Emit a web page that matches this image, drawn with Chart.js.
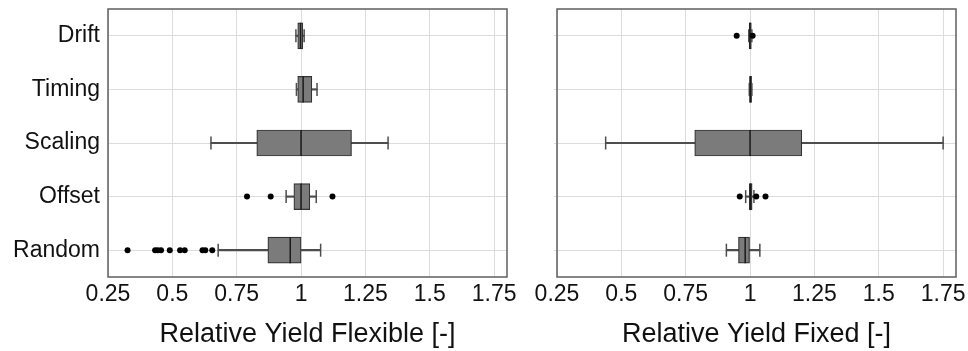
<!DOCTYPE html>
<html>
<head>
<meta charset="utf-8">
<script src="https://cdn.jsdelivr.net/npm/chart.js@4/dist/chart.umd.min.js"></script>
<style>
  html, body { margin: 0; padding: 0; background: #ffffff; }
  #wrap { position: relative; width: 968px; height: 351px; }
  #c1 { position: absolute; left: 0; top: 0; }
  #c2 { position: absolute; left: 520px; top: 0; }
</style>
</head>
<body>
<div id="wrap">
  <canvas id="c1" width="520" height="351"></canvas>
  <canvas id="c2" width="448" height="351"></canvas>
</div>
<script>
// ---- data ----
const categories = ['Drift', 'Timing', 'Scaling', 'Offset', 'Random'];
const xTickValues = [0.25, 0.5, 0.75, 1, 1.25, 1.5, 1.75];
const xTickLabels = ['0.25', '0.5', '0.75', '1', '1.25', '1.5', '1.75'];
const xMin = 0.25;
const xMax = 1.8;

// Relative Yield Flexible
const flexLow    = [0.980, 0.982, 0.650, 0.942, 0.678];
const flexQ1     = [0.987, 0.987, 0.828, 0.972, 0.871];
const flexMedian = [0.998, 1.008, 1.000, 1.000, 0.958];
const flexQ3     = [1.007, 1.042, 1.196, 1.034, 1.000];
const flexHigh   = [1.012, 1.062, 1.338, 1.059, 1.076];
const flexOutliers = [
  [],
  [],
  [],
  [0.790, 0.882, 1.122],
  [0.326, 0.433, 0.443, 0.456, 0.490, 0.530, 0.548, 0.617, 0.628, 0.655]
];

// Relative Yield Fixed
const fixLow    = [0.995, 0.997, 0.439, 0.983, 0.908];
const fixQ1     = [0.997, 0.998, 0.785, 0.997, 0.955];
const fixMedian = [1.000, 1.001, 1.000, 1.002, 0.981];
const fixQ3     = [1.005, 1.006, 1.201, 1.008, 0.998];
const fixHigh   = [1.007, 1.007, 1.750, 1.015, 1.038];
const fixOutliers = [
  [0.948, 1.010],
  [],
  [],
  [0.960, 1.024, 1.060],
  []
];

// ---- styling ----
const FONT = "'Liberation Sans', Arial, Helvetica, sans-serif";
const TEXT = '#111111';
const GRID = '#dcdcdc';

const framePlugin = {
  id: 'frame',
  afterDatasetsDraw(chart) {
    const a = chart.chartArea, ctx = chart.ctx;
    ctx.save();
    ctx.strokeStyle = '#5f5f5f';
    ctx.lineWidth = 1.5;
    ctx.strokeRect(a.left, a.top, a.right - a.left, a.bottom - a.top);
    ctx.restore();
  }
};

function zeroPad(s) {
  s.paddingTop = 0; s.paddingBottom = 0; s.paddingLeft = 0; s.paddingRight = 0;
}

function makeConfig(low, q1, med, q3, high, outliers, title, showY, yWidth, padRight) {
  const whiskers = categories.map((c, i) => [low[i], high[i]]);
  const boxes = categories.map((c, i) => [q1[i], q3[i]]);
  const caps = [];
  categories.forEach((c, i) => { caps.push({x: low[i], y: c}); caps.push({x: high[i], y: c}); });
  const medians = categories.map((c, i) => ({x: med[i], y: c}));
  const outs = [];
  categories.forEach((c, i) => outliers[i].forEach(v => outs.push({x: v, y: c})));

  return {
    type: 'bar',
    data: {
      labels: categories,
      datasets: [
        { type: 'bar', data: whiskers, grouped: false, barThickness: 1.5,
          backgroundColor: '#4d4d4d', borderWidth: 0, order: 4 },
        { type: 'bar', data: boxes, grouped: false, barThickness: 26,
          backgroundColor: '#7b7b7b', borderColor: '#333333', borderWidth: 1.2,
          borderSkipped: false, order: 3 },
        { type: 'scatter', data: caps, pointStyle: 'line', rotation: 90, radius: 6.5,
          borderColor: '#4d4d4d', borderWidth: 1.5, showLine: false, order: 2 },
        { type: 'scatter', data: medians, pointStyle: 'line', rotation: 90, radius: 13,
          borderColor: '#1a1a1a', borderWidth: 1.5, showLine: false, order: 1 },
        { type: 'scatter', data: outs, pointStyle: 'circle', radius: 3,
          backgroundColor: '#000000', borderWidth: 0, showLine: false, order: 0 }
      ]
    },
    options: {
      indexAxis: 'y',
      responsive: false,
      animation: false,
      events: [],
      layout: { autoPadding: false, padding: { top: 9, right: padRight, bottom: 0, left: 0 } },
      plugins: { legend: { display: false }, tooltip: { enabled: false } },
      scales: {
        x: {
          type: 'linear',
          min: xMin, max: xMax,
          afterBuildTicks: s => { s.ticks = xTickValues.map(v => ({value: v})); },
          afterFit: s => { s.height = 74; zeroPad(s); },
          grid: { color: GRID, lineWidth: 1, drawTicks: false },
          border: { display: false },
          ticks: {
            padding: 4,
            color: TEXT,
            font: { family: FONT, size: 23 },
            maxRotation: 0,
            autoSkip: false,
            callback: v => xTickLabels[xTickValues.indexOf(v)]
          },
          title: {
            display: true, text: title, color: TEXT,
            font: { family: FONT, size: 27 },
            padding: { top: 0, bottom: 0 }
          }
        },
        y: {
          type: 'category',
          labels: categories,
          offset: true,
          afterFit: s => { s.width = yWidth; zeroPad(s); },
          grid: { color: GRID, lineWidth: 1, offset: false, drawTicks: !showY, tickLength: 3 },
          border: { display: false },
          ticks: {
            display: showY,
            padding: 8,
            color: TEXT,
            font: { family: FONT, size: 23 }
          }
        }
      }
    },
    plugins: [framePlugin]
  };
}

new Chart(document.getElementById('c1'),
  makeConfig(flexLow, flexQ1, flexMedian, flexQ3, flexHigh, flexOutliers,
             'Relative Yield Flexible [-]', true, 108, 13));
new Chart(document.getElementById('c2'),
  makeConfig(fixLow, fixQ1, fixMedian, fixQ3, fixHigh, fixOutliers,
             'Relative Yield Fixed [-]', false, 37, 12));
</script>
</body>
</html>
